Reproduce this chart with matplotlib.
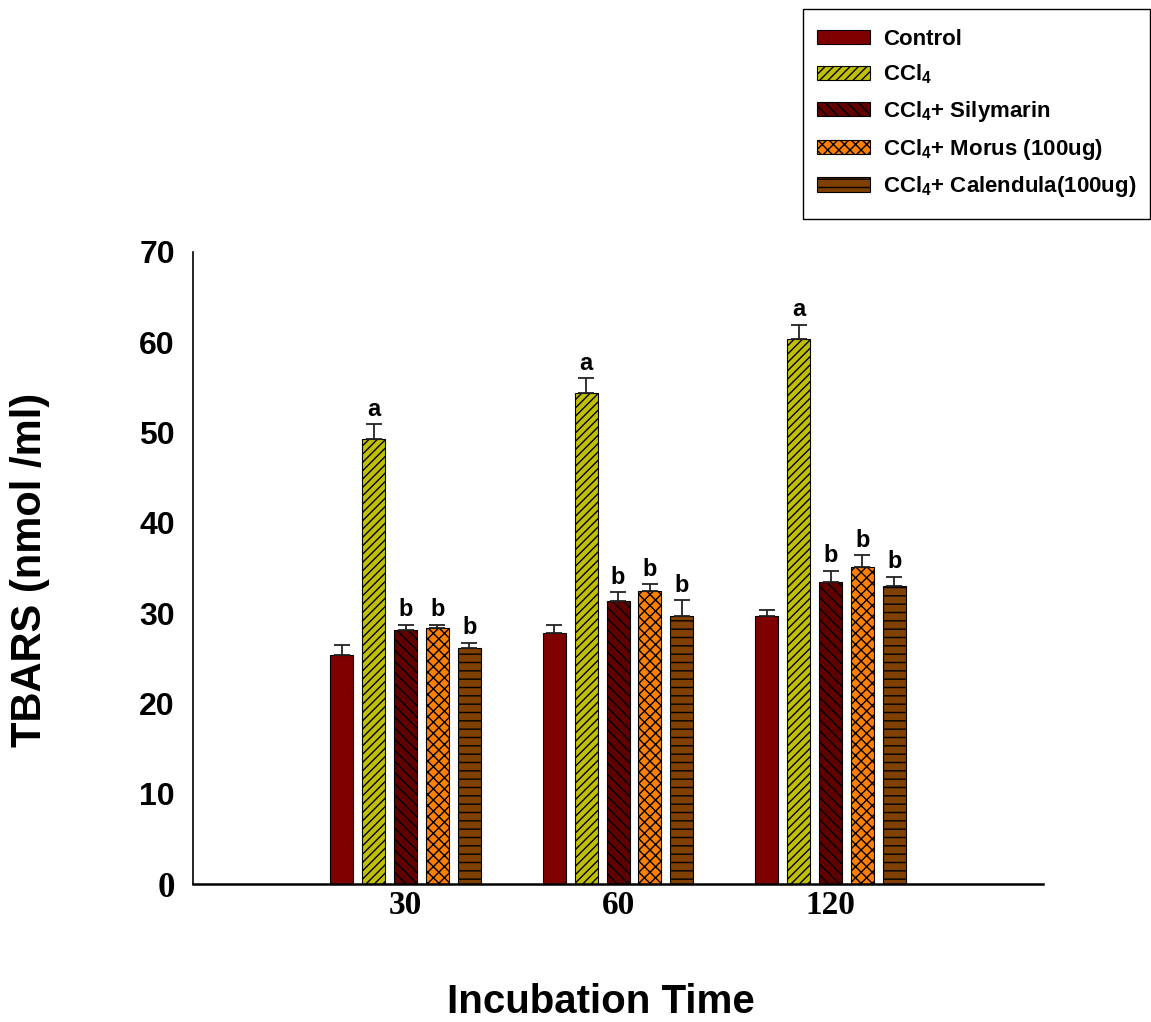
import numpy as np
import matplotlib.pyplot as plt
from matplotlib.patches import Rectangle

plt.rcParams['font.family'] = 'Liberation Sans'
plt.rcParams['font.weight'] = 'bold'
plt.rcParams['mathtext.fontset'] = 'custom'
plt.rcParams['mathtext.rm'] = 'Liberation Sans:bold'
plt.rcParams['mathtext.default'] = 'rm'
plt.rcParams['hatch.color'] = 'black'
plt.rcParams['hatch.linewidth'] = 1.0

# data
times = ['30', '60', '120']
groups = ['Control', 'CCl$_4$', 'CCl$_4$+ Silymarin',
          'CCl$_4$+ Morus (100ug)', 'CCl$_4$+ Calendula(100ug)']
means = [
    [25.4, 27.8, 29.7],   # Control
    [49.3, 54.4, 60.4],   # CCl4
    [28.1, 31.3, 33.4],   # Silymarin
    [28.3, 32.4, 35.1],   # Morus
    [26.1, 29.7, 33.0],   # Calendula
]
errs = [
    [1.1, 0.9, 0.6],
    [1.6, 1.6, 1.5],
    [0.6, 1.0, 1.3],
    [0.4, 0.8, 1.3],
    [0.6, 1.7, 1.0],
]
letters = [
    ['', '', ''],
    ['a', 'a', 'a'],
    ['b', 'b', 'b'],
    ['b', 'b', 'b'],
    ['b', 'b', 'b'],
]

colors = ['#800000', '#c0c000', '#600000', '#ff8000', '#804000']
hatches = [None, '////', '\\\\\\', 'xxx', '--']

fig = plt.figure(figsize=(11.51, 10.22), dpi=100)
ax = fig.add_axes([0.1677, 0.135, 0.7385, 0.6185])

x = np.arange(1, len(times) + 1)
step = 0.15
width = 0.108
for i in range(len(groups)):
    pos = x + (i - 2) * step
    ax.bar(pos, means[i], width, color=colors[i], edgecolor='black',
           linewidth=0.8, hatch=hatches[i], label=groups[i], zorder=2)
    ax.errorbar(pos, means[i], yerr=[np.zeros(len(times)), errs[i]],
                fmt='none', ecolor='#222222', elinewidth=1.3, capsize=5.5,
                capthick=1.3, zorder=3)
    for j in range(len(times)):
        if letters[i][j]:
            ax.text(pos[j], means[i][j] + errs[i][j] + 0.4, letters[i][j],
                    ha='center', va='bottom', fontsize=17, fontweight='bold')

ax.set_xlim(0, 4)
ax.set_ylim(0, 70)
ax.set_yticks(np.arange(0, 71, 10))
ax.set_xticks(x)
ax.set_xticklabels(times, family='Liberation Serif', fontsize=24, fontweight='bold')
ax.tick_params(axis='both', length=0)
ax.tick_params(axis='y', labelsize=23, pad=13)
ax.tick_params(axis='x', pad=4)
ax.get_yticklabels()[0].set_family('Liberation Serif')
ax.get_yticklabels()[0].set_fontsize(25)
ax.spines['top'].set_visible(False)
ax.spines['right'].set_visible(False)
ax.spines['left'].set_linewidth(1.2)
ax.spines['bottom'].set_linewidth(1.8)

fig.text(0.026, 0.442, 'TBARS (nmol /ml)', rotation=90, ha='center', va='center',
         fontsize=30, fontweight='bold')
fig.text(0.522, 0.009, 'Incubation Time', ha='center', va='baseline',
         fontsize=29, fontweight='bold')

# legend without its own frame, boxed by a separate rectangle
leg = fig.legend(loc='upper left', bbox_to_anchor=(817 / 1151, 1 - 29 / 1022),
                 frameon=False, fontsize=16, handlelength=2.39, handleheight=0.62,
                 labelspacing=0.57, borderpad=0, handletextpad=0.59,
                 borderaxespad=0)
fig.patches.append(Rectangle((803 / 1151, 1 - 219 / 1022), 347 / 1151, 210 / 1022,
                             transform=fig.transFigure, fill=False,
                             edgecolor='black', linewidth=1.0))

fig.savefig('out.png', dpi=100)
